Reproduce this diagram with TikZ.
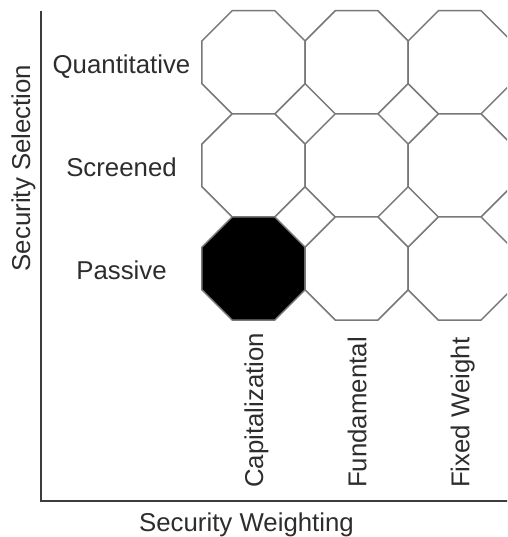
\documentclass[tikz,border=0pt]{standalone}
\usepackage{fontspec}
\setmainfont{Liberation Sans}
\usetikzlibrary{shapes.geometric}
\definecolor{octline}{RGB}{120,120,120}
\definecolor{axisline}{RGB}{60,60,60}
\definecolor{txt}{RGB}{45,45,45}
\begin{document}
\begin{tikzpicture}[x=1pt,y=-1pt,
  oct/.style={regular polygon, regular polygon sides=8, minimum size=111.6pt,
    inner sep=0pt, outer sep=0pt, draw=octline, line width=1.5pt, fill=white},
  octon/.style={oct, fill=black},
  lbl/.style={font=\fontsize{25.8}{30}\selectfont, text=txt, inner sep=0pt},
  axis/.style={draw=axisline, line width=2pt}]
\useasboundingbox (0,0) rectangle (507,537);
\clip (0,0) rectangle (507,537);
% octagon grid
\node[oct]   (q1) at (253.5, 62.3) {};
\node[oct]   (q2) at (356.6, 62.3) {};
\node[oct]   (q3) at (459.7, 62.3) {};
\node[oct]   (s1) at (253.5,165.4) {};
\node[oct]   (s2) at (356.6,165.4) {};
\node[oct]   (s3) at (459.7,165.4) {};
\node[octon] (p1) at (253.5,268.5) {};
\node[oct]   (p2) at (356.6,268.5) {};
\node[oct]   (p3) at (459.7,268.5) {};
% axes
\coordinate (top) at (40.5,11.5);
\coordinate (origin) at (40.5,501);
\coordinate (right) at (508,501);
\draw[axis] (top) -- (origin) -- (right);
% row labels
\node[lbl, anchor=base] (lq) at (121.5, 73.8) {Quantitative};
\node[lbl, anchor=base] (ls) at (121.5,176.6) {Screened};
\node[lbl, anchor=base] (lp) at (121.5,279.8) {Passive};
% column labels
\node[lbl, rotate=90, anchor=base west] (lc) at (263.2,488) {Capitalization};
\node[lbl, rotate=90, anchor=base west] (lf) at (366.3,488) {Fundamental};
\node[lbl, rotate=90, anchor=base west] (lw) at (469.4,488) {Fixed Weight};
% axis titles
\node[lbl, rotate=90, anchor=base] (ysel) at (30,168) {Security Selection};
\node[lbl, anchor=base] (xwt) at (246.5,531) {Security Weighting};
\end{tikzpicture}
\end{document}
